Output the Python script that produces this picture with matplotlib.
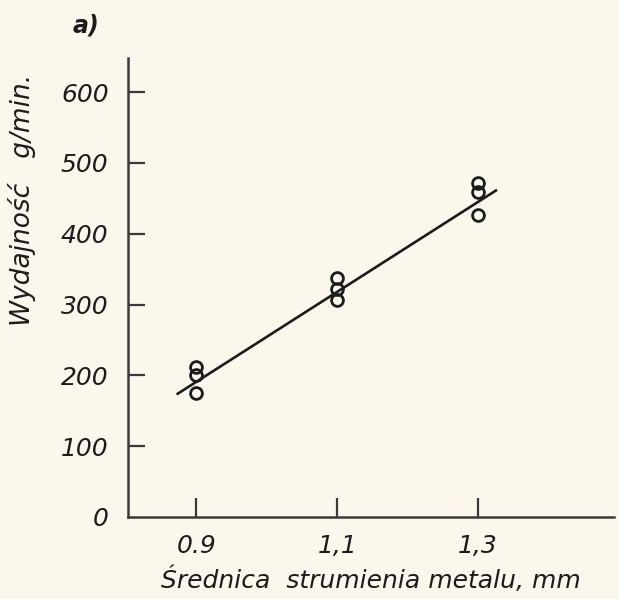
import matplotlib.pyplot as plt

# data
diam_09 = [0.9, 0.9, 0.9]
yield_09 = [212, 200, 175]
diam_11 = [1.1, 1.1, 1.1]
yield_11 = [337, 322, 306]
diam_13 = [1.3, 1.3, 1.3]
yield_13 = [471, 459, 426]

# fitted line endpoints as drawn
fit_x = [0.872, 1.327]
fit_y = [173, 462]

x_ticks = [0.9, 1.1, 1.3]
x_ticklabels = ["0.9", "1,1", "1,3"]
y_ticks = [0, 100, 200, 300, 400, 500, 600]
y_ticklabels = ["0", "100", "200", "300", "400", "500", "600"]

BG = "#fbf7ec"
INK = "#1c1c1c"
AX = "#3a3a3a"


def main():
    fig = plt.figure(figsize=(6.19, 5.99), dpi=100, facecolor=BG)
    ax = fig.add_axes([0.2068, 0.137, 0.785, 0.766], facecolor=BG)

    ax.plot(fit_x, fit_y, color=INK, lw=1.9, solid_capstyle="butt", zorder=2)
    xs = diam_09 + diam_11 + diam_13
    ys = yield_09 + yield_11 + yield_13
    ax.plot(xs, ys, ls="none", marker="o", ms=8.5, mfc="none",
            mec=INK, mew=2.0, zorder=3)

    ax.set_xlim(0.803, 1.493)
    ax.set_ylim(0, 648)

    for s in ["top", "right"]:
        ax.spines[s].set_visible(False)
    for s in ["left", "bottom"]:
        ax.spines[s].set_color(AX)
        ax.spines[s].set_linewidth(1.8)

    tick_font = dict(family="DejaVu Sans", style="italic", size=18)
    ax.set_xticks(x_ticks)
    ax.set_xticklabels(x_ticklabels, **tick_font)
    ax.set_yticks(y_ticks)
    ax.set_yticklabels(y_ticklabels, **tick_font)
    ax.tick_params(axis="x", direction="in", length=14, width=1.6,
                   color=AX, pad=12, labelcolor=INK)
    ax.tick_params(axis="y", direction="in", length=12, width=1.6,
                   color=AX, pad=14, labelcolor=INK)
    # the "0" tick on y has no visible mark
    ax.yaxis.get_major_ticks()[0].tick1line.set_visible(False)

    ax.set_xlabel("Średnica  strumienia metalu, mm", family="DejaVu Sans",
                  style="italic", size=18, color=INK)
    ax.xaxis.set_label_coords(0.5, -0.108)
    ax.set_ylabel("Wydajność   g/min.", family="DejaVu Sans",
                  style="italic", size=19, color=INK)
    ax.yaxis.set_label_coords(-0.19, 0.69)

    fig.text(0.118, 0.958, "a)", family="DejaVu Sans", style="italic",
             weight="bold", size=17, color=INK, ha="left", va="center")

    fig.savefig("out.png", dpi=100, facecolor=BG)


if __name__ == "__main__":
    main()
